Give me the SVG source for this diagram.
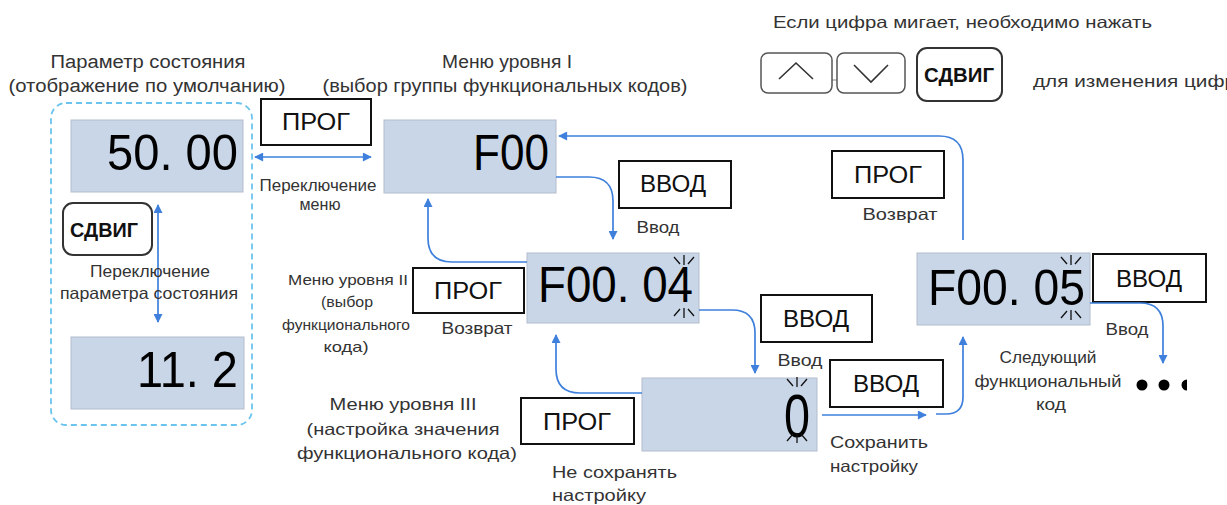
<svg xmlns="http://www.w3.org/2000/svg" width="1227" height="505" viewBox="0 0 1227 505">
<style>
.lbl{font-family:"Liberation Sans",Arial,sans-serif;font-size:16.5px;fill:#333;text-anchor:middle}
.lbl-s{font-family:"Liberation Sans",Arial,sans-serif;font-size:15px;fill:#333;text-anchor:middle}
.ttl{font-family:"Liberation Sans",Arial,sans-serif;font-size:18px;fill:#333;text-anchor:middle}
.disp{fill:#c9d6e8;stroke:#b3bccb;stroke-width:1}
.dtxt{font-family:"Liberation Sans",Arial,sans-serif;font-size:50px;fill:#000;text-anchor:end}
.btn{fill:#fff;stroke:#111;stroke-width:2}
.btxt{font-family:"Liberation Sans",Arial,sans-serif;font-size:23px;fill:#111;text-anchor:middle}
.rbtn{fill:#fff;stroke:#333;stroke-width:2}
.sbtxt{font-family:"Liberation Sans",Arial,sans-serif;font-size:21px;font-weight:bold;fill:#111;text-anchor:middle}
.con{fill:none;stroke:#3e80dc;stroke-width:1.7}
.spk{stroke:#111;stroke-width:1.3;fill:none}
</style>
<defs>
<marker id="ah" viewBox="0 0 10 10" refX="9" refY="5" markerWidth="11" markerHeight="9" orient="auto-start-reverse" markerUnits="userSpaceOnUse">
<path d="M0,0 L10,5 L0,10 z" fill="#3e80dc"/>
</marker>
<g id="rays-up" class="spk"><path d="M-10,-11 L-4,-4 M0,-13 L0,-3 M10,-11 L4,-4"/></g>
<g id="rays-dn" class="spk"><path d="M-10,11 L-4,4 M0,13 L0,3 M10,11 L4,4"/></g>
</defs>

<!-- top instruction -->
<g id="hint">
<text x="773" y="28" class="lbl" style="text-anchor:start" textLength="379" lengthAdjust="spacingAndGlyphs">Если цифра мигает, необходимо нажать</text>
<line x1="832" y1="80" x2="837" y2="80" stroke="#999" stroke-width="1.2"/>
<rect x="761" y="53" width="71" height="40" rx="7" fill="#fff" stroke="#555" stroke-width="1.5"/>
<path d="M779,79 L796,63 L813,79" fill="none" stroke="#333" stroke-width="1.6"/>
<rect x="837" y="53" width="68" height="40" rx="7" fill="#fff" stroke="#555" stroke-width="1.5"/>
<path d="M854,65 L871,82 L888,65" fill="none" stroke="#333" stroke-width="1.6"/>
<rect x="917" y="48" width="85" height="53" rx="10" class="rbtn"/>
<text x="959" y="82" class="sbtxt" textLength="70" lengthAdjust="spacingAndGlyphs">СДВИГ</text>
<text x="1033" y="87" class="lbl" style="text-anchor:start" textLength="203" lengthAdjust="spacingAndGlyphs">для изменения цифр</text>
</g>

<!-- status parameter group -->
<g id="status">
<text x="148" y="68" class="ttl" textLength="195" lengthAdjust="spacingAndGlyphs">Параметр состояния</text>
<text x="147" y="92" class="ttl" textLength="277" lengthAdjust="spacingAndGlyphs">(отображение по умолчанию)</text>
<rect x="51" y="103" width="201" height="322" rx="15" fill="none" stroke="#6cc4ee" stroke-width="1.8" stroke-dasharray="6,4"/>
</g>
<g id="disp-5000">
<rect x="71" y="120" width="172" height="72" class="disp"/>
<text x="238" y="170" class="dtxt" textLength="131" lengthAdjust="spacingAndGlyphs">50. 00</text>
</g>
<g id="btn-shift">
<rect x="63" y="203" width="89" height="52" rx="10" class="rbtn"/>
<text x="104" y="237" class="sbtxt" textLength="68" lengthAdjust="spacingAndGlyphs">СДВИГ</text>
</g>
<g id="disp-112">
<rect x="71" y="337" width="173" height="72" class="disp"/>
<text x="238" y="387" class="dtxt" textLength="101" lengthAdjust="spacingAndGlyphs">11. 2</text>
</g>

<!-- level I -->
<g id="level1">
<text x="507" y="68" class="ttl" textLength="130" lengthAdjust="spacingAndGlyphs">Меню уровня I</text>
<text x="505" y="92" class="ttl" textLength="365" lengthAdjust="spacingAndGlyphs">(выбор группы функциональных кодов)</text>
</g>
<g id="disp-f00">
<rect x="384" y="120" width="172" height="73" class="disp"/>
<text x="549" y="170" class="dtxt" textLength="76" lengthAdjust="spacingAndGlyphs">F00</text>
</g>
<g id="btn-prog1">
<rect x="261" y="99" width="110" height="46" class="btn"/>
<text x="316" y="130" class="btxt" textLength="68" lengthAdjust="spacingAndGlyphs">ПРОГ</text>
</g>

<!-- level II -->
<g id="level2">
<text x="348" y="285" class="lbl-s" textLength="120" lengthAdjust="spacingAndGlyphs">Меню уровня II</text>
<text x="347" y="307" class="lbl-s" textLength="52" lengthAdjust="spacingAndGlyphs">(выбор</text>
<text x="346" y="330" class="lbl-s" textLength="128" lengthAdjust="spacingAndGlyphs">функционального</text>
<text x="346" y="352" class="lbl-s" textLength="45" lengthAdjust="spacingAndGlyphs">кода)</text>
</g>
<g id="disp-f0004">
<rect x="527" y="253" width="172" height="70" class="disp"/>
<text x="693" y="302" class="dtxt" textLength="155" lengthAdjust="spacingAndGlyphs">F00. 04</text>
<use href="#rays-up" x="684" y="268"/>
<use href="#rays-dn" x="684" y="305"/>
</g>
<g id="btn-prog2">
<rect x="413" y="268" width="111" height="45" class="btn"/>
<text x="468" y="299" class="btxt" textLength="68" lengthAdjust="spacingAndGlyphs">ПРОГ</text>
</g>
<g id="btn-enter1">
<rect x="619" y="161" width="112" height="47" class="btn"/>
<text x="673" y="192" class="btxt" textLength="66" lengthAdjust="spacingAndGlyphs">ВВОД</text>
</g>

<!-- level III -->
<g id="level3">
<text x="403" y="410" class="lbl" textLength="147" lengthAdjust="spacingAndGlyphs">Меню уровня III</text>
<text x="403" y="435" class="lbl" textLength="193" lengthAdjust="spacingAndGlyphs">(настройка значения</text>
<text x="407" y="459" class="lbl" textLength="220" lengthAdjust="spacingAndGlyphs">функционального кода)</text>
</g>
<g id="disp-0">
<rect x="642" y="378" width="175" height="73" class="disp"/>
<text x="810" y="437" class="dtxt" style="font-size:62px" textLength="26" lengthAdjust="spacingAndGlyphs">0</text>
<use href="#rays-up" x="797" y="390"/>
<use href="#rays-dn" x="797" y="430"/>
</g>
<g id="btn-prog3">
<rect x="521" y="398" width="113" height="46" class="btn"/>
<text x="577" y="430" class="btxt" textLength="68" lengthAdjust="spacingAndGlyphs">ПРОГ</text>
</g>
<g id="btn-enter2">
<rect x="761" y="295" width="111" height="47" class="btn"/>
<text x="816" y="327" class="btxt" textLength="66" lengthAdjust="spacingAndGlyphs">ВВОД</text>
</g>
<g id="btn-enter3">
<rect x="830" y="360" width="113" height="47" class="btn"/>
<text x="886" y="392" class="btxt" textLength="66" lengthAdjust="spacingAndGlyphs">ВВОД</text>
</g>

<!-- F00.05 -->
<g id="disp-f0005">
<rect x="917" y="253" width="173" height="72" class="disp"/>
<text x="1085" y="305" class="dtxt" textLength="157" lengthAdjust="spacingAndGlyphs">F00. 05</text>
<use href="#rays-up" x="1071" y="268"/>
<use href="#rays-dn" x="1071" y="307"/>
</g>
<g id="btn-prog4">
<rect x="832" y="151" width="112" height="47" class="btn"/>
<text x="888" y="183" class="btxt" textLength="68" lengthAdjust="spacingAndGlyphs">ПРОГ</text>
</g>
<g id="btn-enter4">
<rect x="1093" y="254" width="113" height="48" class="btn"/>
<text x="1149" y="287" class="btxt" textLength="66" lengthAdjust="spacingAndGlyphs">ВВОД</text>
</g>
<g id="next">
<text x="1048" y="363" class="lbl" textLength="97" lengthAdjust="spacingAndGlyphs">Следующий</text>
<text x="1048" y="387" class="lbl" textLength="147" lengthAdjust="spacingAndGlyphs">функциональный</text>
<text x="1051" y="410" class="lbl" textLength="30" lengthAdjust="spacingAndGlyphs">код</text>
<circle cx="1142" cy="385" r="5.5" fill="#000"/>
<circle cx="1164" cy="385" r="5.5" fill="#000"/>
<path d="M1187,379.5 A5.5,5.5 0 0 0 1187,390.5 Z" fill="#000"/>
</g>

<!-- connectors -->
<g id="connectors">
<path class="con" d="M255,157 H371" marker-start="url(#ah)" marker-end="url(#ah)"/>
<path class="con" d="M158,205 V322" marker-start="url(#ah)" marker-end="url(#ah)"/>
<path class="con" d="M556,177 H589 Q613,177 613,201 V239" marker-end="url(#ah)"/>
<path class="con" d="M527,262 H452 Q428,262 428,238 V199" marker-end="url(#ah)"/>
<path class="con" d="M699,310 H732 Q755,310 755,333 V373" marker-end="url(#ah)"/>
<path class="con" d="M642,393 H580 Q556,393 556,369 V335" marker-end="url(#ah)"/>
<path class="con" d="M822,415 H926" marker-end="url(#ah)"/>
<path class="con" d="M936,414 H946 Q963,414 963,397 V337" marker-end="url(#ah)"/>
<path class="con" d="M963,240 V160 Q963,136 939,136 H559" marker-end="url(#ah)"/>
<path class="con" d="M1090,303 H1140 Q1163,303 1163,326 V363" marker-end="url(#ah)"/>
</g>

<!-- connector labels -->
<g id="conn-labels">
<text x="318" y="191" class="lbl" textLength="117" lengthAdjust="spacingAndGlyphs">Переключение</text>
<text x="320" y="210" class="lbl" textLength="41" lengthAdjust="spacingAndGlyphs">меню</text>
<text x="150" y="277" class="lbl" textLength="120" lengthAdjust="spacingAndGlyphs">Переключение</text>
<text x="149" y="299" class="lbl" textLength="178" lengthAdjust="spacingAndGlyphs">параметра состояния</text>
<text x="658" y="233" class="lbl" textLength="43" lengthAdjust="spacingAndGlyphs">Ввод</text>
<text x="477" y="334" class="lbl" textLength="71" lengthAdjust="spacingAndGlyphs">Возврат</text>
<text x="800" y="366" class="lbl" textLength="45" lengthAdjust="spacingAndGlyphs">Ввод</text>
<text x="552" y="478" class="lbl" style="text-anchor:start" textLength="125" lengthAdjust="spacingAndGlyphs">Не сохранять</text>
<text x="552" y="501" class="lbl" style="text-anchor:start" textLength="94" lengthAdjust="spacingAndGlyphs">настройку</text>
<text x="830" y="448" class="lbl" style="text-anchor:start" textLength="98" lengthAdjust="spacingAndGlyphs">Сохранить</text>
<text x="830" y="472" class="lbl" style="text-anchor:start" textLength="88" lengthAdjust="spacingAndGlyphs">настройку</text>
<text x="900" y="220" class="lbl" textLength="75" lengthAdjust="spacingAndGlyphs">Возврат</text>
<text x="1127" y="335" class="lbl" textLength="43" lengthAdjust="spacingAndGlyphs">Ввод</text>
</g>
</svg>
